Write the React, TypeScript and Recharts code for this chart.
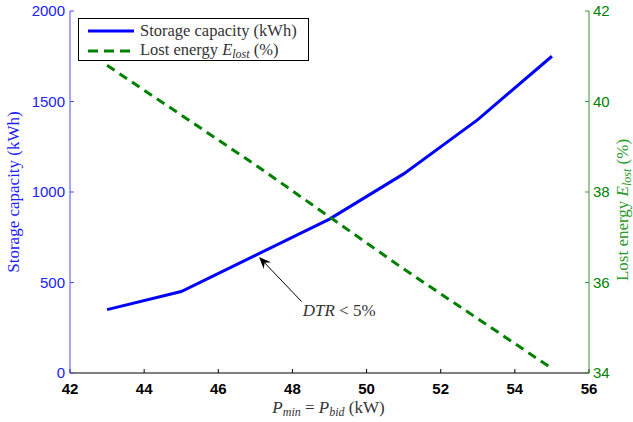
import React from 'react';
import { ComposedChart, Legend, Line, ReferenceLine, XAxis, YAxis } from 'recharts';

// P_min = P_bid (kW)
const pBid = [43, 45, 47, 49, 51, 53, 55];
// storage capacity (kWh), left axis
const storageCapacity = [350, 450, 650, 850, 1100, 1400, 1750];
// lost energy E_lost (%), right axis
const lostEnergy = [40.8, 39.7, 38.6, 37.45, 36.3, 35.2, 34.1];

const xTicks = [42, 44, 46, 48, 50, 52, 54, 56];
const leftTicks = [0, 500, 1000, 1500, 2000];
const rightTicks = [34, 36, 38, 40, 42];

// annotation arrow: tail -> head (data coords, left axis)
const arrowTail = { x: 48.25, y: 394 };
const arrowHead = { x: 47.1, y: 641 };

const data = pBid.map((p, i) => ({
    p,
    capacity: storageCapacity[i],
    lost: lostEnergy[i],
}));

const SERIF = '"Liberation Serif", "Times New Roman", serif';
const SANS = '"Liberation Sans", Arial, sans-serif';
const BLUE = '#0000ff';
const GREEN = '#008000';

const LeftLabel = ({ viewBox }: any) => {
    const x = viewBox.x + 19;
    const y = viewBox.y + viewBox.height / 2;
    return (
        <text x={x} y={y} transform={`rotate(-90 ${x} ${y})`} textAnchor="middle"
            fill="#2020ff" fontFamily={SERIF} fontSize={17}>
            Storage capacity (kWh)
        </text>
    );
};

const RightLabel = ({ viewBox }: any) => {
    const x = viewBox.x + 39;
    const y = viewBox.y + viewBox.height / 2 + 18;
    return (
        <text x={x} y={y} transform={`rotate(-90 ${x} ${y})`} textAnchor="middle"
            fill="#2a9a2a" fontFamily={SERIF} fontSize={17}>
            Lost energy <tspan fontStyle="italic">E</tspan>
            <tspan fontStyle="italic" fontSize={12} dy={3}>lost</tspan>
            <tspan dy={-3}> (%)</tspan>
        </text>
    );
};

const BottomLabel = ({ viewBox }: any) => {
    const x = viewBox.x + viewBox.width / 2 - 1;
    const y = viewBox.y + 40;
    return (
        <text x={x} y={y} textAnchor="middle" fill="#333" fontFamily={SERIF} fontSize={17}>
            <tspan fontStyle="italic">P</tspan>
            <tspan fontStyle="italic" fontSize={12} dy={3}>min</tspan>
            <tspan dy={-3}> = </tspan>
            <tspan fontStyle="italic">P</tspan>
            <tspan fontStyle="italic" fontSize={12} dy={3}>bid</tspan>
            <tspan dy={-3}> (kW)</tspan>
        </text>
    );
};

const ArrowShape = (props: any) => {
    const { x1, y1, x2, y2 } = props;
    const ang = Math.atan2(y2 - y1, x2 - x1);
    const ux = Math.cos(ang);
    const uy = Math.sin(ang);
    const len = 12;
    const half = 5;
    const notch = 8;
    const bx = x2 - ux * len;
    const by = y2 - uy * len;
    const nx = x2 - ux * notch;
    const ny = y2 - uy * notch;
    const pts = [
        [x2, y2],
        [bx - uy * half, by + ux * half],
        [nx, ny],
        [bx + uy * half, by - ux * half],
    ].map(p => p.join(',')).join(' ');
    return (
        <g>
            <line x1={x1} y1={y1} x2={nx} y2={ny} stroke="#000" strokeWidth={1} />
            <polygon points={pts} fill="#000" />
            <text x={x1 + 1} y={y1 + 14} fill="#333" fontFamily={SERIF} fontSize={17}>
                <tspan fontStyle="italic">DTR</tspan> &lt; 5%
            </text>
        </g>
    );
};

const LegendBox = () => (
    <div style={{
        border: '1px solid #000',
        background: '#fff',
        boxSizing: 'border-box',
        width: 231,
        height: 43,
        fontFamily: SERIF,
        fontSize: 16.5,
        color: '#333',
        padding: '2px 0 0 9px',
        lineHeight: '19px',
        whiteSpace: 'nowrap',
    }}>
        <div style={{ display: 'flex', alignItems: 'center' }}>
            <svg width={46} height={19}><line x1={0} y1={10} x2={46} y2={10} stroke={BLUE} strokeWidth={3} /></svg>
            <span style={{ marginLeft: 6 }}>Storage capacity (kWh)</span>
        </div>
        <div style={{ display: 'flex', alignItems: 'center' }}>
            <svg width={46} height={19}><line x1={0} y1={10} x2={46} y2={10} stroke={GREEN} strokeWidth={3} strokeDasharray="10 6" /></svg>
            <span style={{ marginLeft: 6 }}>
                Lost energy <i>E</i><i style={{ fontSize: 12, position: 'relative', top: 3 }}>lost</i> (%)
            </span>
        </div>
    </div>
);

export default function App() {
    return (
        <div style={{ position: 'absolute', left: 0, top: 0, width: 633, height: 422, background: '#fff' }}>
            <ComposedChart width={633} height={422} data={data}
                margin={{ top: 11, right: 0, bottom: 0, left: 0 }}>
                <XAxis dataKey="p" type="number" domain={[42, 56]} ticks={xTicks}
                    height={49} stroke="#000" tickSize={-4} tickMargin={14}
                    tick={{ fontSize: 15, fontFamily: SANS, fontWeight: 'bold', fill: '#000' }}
                    label={<BottomLabel />} />
                <YAxis yAxisId="left" domain={[0, 2000]} ticks={leftTicks} width={70}
                    stroke="#4d4dff" tickSize={-4} tickMargin={9}
                    tick={{ fontSize: 15, fontFamily: SANS, fill: '#2020ff' }}
                    label={<LeftLabel />} />
                <YAxis yAxisId="right" orientation="right" domain={[34, 42]} ticks={rightTicks}
                    width={44} stroke="#2e9a2e" tickSize={-4} tickMargin={8}
                    tick={{ fontSize: 15, fontFamily: SANS, fill: GREEN }}
                    label={<RightLabel />} />
                <Line yAxisId="left" type="linear" dataKey="capacity" stroke={BLUE}
                    strokeWidth={3} dot={false} isAnimationActive={false} />
                <Line yAxisId="right" type="linear" dataKey="lost" stroke={GREEN}
                    strokeWidth={3} strokeDasharray="9 6" dot={false} isAnimationActive={false} />
                <ReferenceLine yAxisId="left" segment={[arrowTail, arrowHead]} shape={<ArrowShape />} />
                <Legend layout="horizontal" verticalAlign="middle" align="center"
                    wrapperStyle={{ left: 78, top: 18, width: 231 }} content={<LegendBox />} />
            </ComposedChart>
        </div>
    );
}
